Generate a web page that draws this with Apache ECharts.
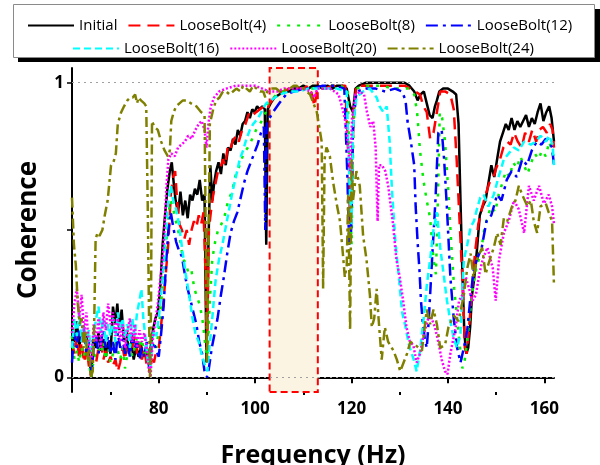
<!DOCTYPE html>
<html>
<head>
<meta charset="utf-8">
<script src="https://cdn.jsdelivr.net/npm/echarts@6/dist/echarts.min.js"></script>
<style>
html,body{margin:0;padding:0;background:#fff;}
#chart{width:600px;height:465px;}
</style>
</head>
<body>
<div id="chart"></div>
<script>
// ---- data ----
var seriesNames = ['Initial','LooseBolt(4)','LooseBolt(8)','LooseBolt(12)','LooseBolt(16)','LooseBolt(20)','LooseBolt(24)'];
var legendRow1 = ['Initial','LooseBolt(4)','LooseBolt(8)','LooseBolt(12)'];
var legendRow2 = ['LooseBolt(16)','LooseBolt(20)','LooseBolt(24)'];
var xTickMajor = [80,100,120,140,160];
var xTickMinor = [70,90,110,130,150];
var yTickMajor = [0,1];
var yTickAll = [0,0.5,1];
var gridValues = [0,1];
var highlightBand = [103,113];

var initial = [[62,0.17],[62.5,0.12],[63,0.19],[63.5,0.1],[64,0.16],[64.5,0.12],[65,0.14],[65.5,0.08],[66,0.0],[66.4,0.13],[67,0.1],[67.5,0.15],[68,0.09],[68.5,0.13],[69,0.07],[69.5,0.12],[70,0.08],[70.5,0.24],[71,0.18],[71.4,0.25],[71.8,0.16],[72.3,0.23],[72.8,0.12],[73.3,0.16],[73.8,0.08],[74.3,0.12],[74.8,0.06],[75.3,0.1],[75.8,0.07],[76.3,0.11],[76.8,0.07],[77.3,0.09],[77.8,0.05],[78.3,0.1],[78.8,0.16],[79.3,0.2],[79.8,0.22],[80.3,0.3],[80.8,0.45],[81.3,0.55],[81.8,0.64],[82.3,0.7],[82.7,0.73],[83.1,0.66],[83.5,0.6],[84,0.56],[84.5,0.63],[85,0.55],[85.5,0.6],[86,0.54],[86.5,0.62],[87,0.6],[87.5,0.64],[88,0.62],[88.5,0.67],[89,0.6],[89.5,0.62],[89.9,0.05],[90.3,0.45],[90.7,0.72],[91.1,0.6],[91.5,0.66],[91.9,0.7],[92.4,0.73],[92.9,0.69],[93.4,0.76],[93.9,0.72],[94.4,0.78],[94.9,0.77],[95.4,0.81],[95.9,0.79],[96.4,0.84],[96.9,0.82],[97.4,0.86],[97.9,0.87],[98.4,0.9],[98.9,0.88],[99.4,0.91],[99.9,0.9],[100.4,0.92],[100.9,0.91],[101.5,0.92],[102.0,0.91],[102.3,0.45],[102.6,0.91],[103.2,0.93],[104,0.95],[105,0.96],[106,0.97],[107,0.97],[108,0.98],[109,0.98],[110,0.99],[111,0.98],[112,0.99],[113,0.99],[114,0.98],[115,0.99],[116,0.98],[117,0.99],[118,0.99],[119,0.98],[119.7,0.92],[120.3,0.9],[120.8,0.98],[121.5,0.99],[123,1.0],[125,1.0],[127,1.0],[129,1.0],[131,1.0],[132,0.99],[133,0.97],[133.7,0.94],[134.3,0.96],[135,0.97],[135.6,0.93],[136.2,0.89],[136.8,0.88],[137.3,0.92],[137.7,0.94],[138.2,0.97],[139,0.98],[140,0.98],[141,0.97],[141.7,0.96],[142.2,0.86],[142.6,0.6],[143.0,0.35],[143.4,0.15],[143.8,0.08],[144.2,0.1],[144.6,0.17],[145,0.28],[145.4,0.33],[146,0.43],[146.6,0.55],[147.2,0.58],[147.8,0.6],[148.4,0.66],[149,0.72],[149.6,0.68],[150.2,0.74],[150.8,0.8],[151.4,0.83],[152,0.86],[152.6,0.84],[153.2,0.88],[153.8,0.84],[154.4,0.87],[155,0.85],[155.6,0.87],[156.2,0.89],[156.8,0.85],[157.4,0.88],[158,0.86],[158.6,0.9],[159.2,0.93],[159.8,0.87],[160.4,0.9],[161,0.92],[161.5,0.88],[162,0.8]];

var looseBolt4 = [[62,0.12],[62.5,0.08],[63,0.14],[63.5,0.06],[64,0.12],[64.5,0.05],[65,0.1],[65.5,0.04],[66,0.0],[66.4,0.08],[67,0.05],[67.5,0.1],[68,0.12],[68.5,0.06],[69,0.09],[69.5,0.05],[70,0.07],[70.5,0.04],[71,0.06],[71.5,0.02],[72,0.05],[72.5,0.1],[73,0.06],[73.5,0.13],[74,0.15],[74.5,0.1],[75,0.14],[75.5,0.08],[76,0.12],[76.5,0.06],[77,0.1],[77.5,0.04],[78,0.02],[78.5,0.07],[79,0.05],[79.5,0.09],[80,0.1],[80.5,0.18],[81,0.26],[81.5,0.36],[82,0.46],[82.5,0.62],[83,0.68],[83.4,0.7],[83.8,0.6],[84.3,0.52],[84.8,0.5],[85.3,0.47],[85.8,0.5],[86.3,0.45],[86.8,0.5],[87.3,0.53],[87.8,0.51],[88.3,0.55],[88.8,0.52],[89.3,0.56],[89.8,0.3],[90.0,0.08],[90.4,0.5],[90.8,0.56],[91.3,0.62],[91.8,0.66],[92.3,0.7],[92.8,0.71],[93.3,0.74],[93.8,0.72],[94.3,0.78],[94.8,0.77],[95.3,0.8],[96,0.82],[96.6,0.8],[97.3,0.84],[98,0.86],[98.8,0.9],[99.5,0.89],[100.2,0.9],[101,0.91],[101.8,0.92],[102.5,0.91],[103,0.93],[104,0.95],[105,0.97],[106,0.97],[107,0.98],[108,0.98],[109,0.98],[110,0.98],[111,0.99],[111.8,0.96],[112.3,0.92],[112.8,0.97],[113.5,0.98],[114.5,0.98],[116,0.99],[117.5,0.99],[118.7,0.99],[119.3,0.76],[119.7,0.52],[120.0,0.55],[120.4,0.9],[121,0.99],[123,0.99],[126,0.99],[129,0.99],[131,0.99],[132.2,0.98],[133.2,0.97],[134.2,0.96],[134.9,0.92],[135.6,0.9],[136.3,0.81],[137,0.83],[137.7,0.9],[138.4,0.97],[139.5,0.97],[140.5,0.96],[141.2,0.91],[141.8,0.74],[142.5,0.5],[143.1,0.3],[143.5,0.1],[143.9,0.08],[144.3,0.15],[145,0.3],[145.6,0.42],[146.3,0.52],[147,0.57],[147.8,0.62],[148.6,0.66],[149.3,0.67],[150,0.71],[150.8,0.74],[151.5,0.78],[152.3,0.8],[153,0.79],[153.7,0.83],[154.5,0.8],[155.3,0.78],[156,0.83],[156.8,0.8],[157.5,0.84],[158.3,0.8],[159,0.84],[159.7,0.85],[160.5,0.83],[161.2,0.86],[161.7,0.84],[162,0.78]];

var looseBolt8 = [[62,0.14],[62.5,0.06],[63,0.09],[63.5,0.05],[64,0.1],[64.5,0.07],[65,0.12],[65.5,0.05],[66,0.0],[66.5,0.06],[67,0.09],[67.5,0.1],[68,0.08],[68.5,0.12],[69,0.06],[69.5,0.1],[70,0.05],[70.5,0.08],[71,0.13],[71.5,0.09],[72,0.06],[72.5,0.1],[73,0.03],[73.5,0.08],[74,0.12],[74.5,0.07],[75,0.1],[75.5,0.14],[76,0.1],[76.5,0.13],[77,0.08],[77.5,0.1],[78,0.03],[78.5,0.08],[79,0.12],[79.5,0.1],[80,0.16],[80.5,0.25],[81,0.36],[81.5,0.45],[82,0.55],[82.4,0.6],[82.9,0.58],[83.4,0.54],[84,0.5],[84.5,0.46],[85,0.4],[85.6,0.39],[86.2,0.35],[86.8,0.36],[87.4,0.3],[88,0.27],[88.6,0.24],[89.2,0.18],[89.7,0.1],[90.1,0.07],[90.6,0.26],[91.1,0.4],[91.7,0.46],[92.3,0.5],[93,0.52],[93.7,0.55],[94.4,0.6],[95.2,0.63],[96,0.69],[96.8,0.72],[97.6,0.76],[98.5,0.78],[99.4,0.81],[100.2,0.84],[101,0.86],[101.7,0.88],[102.2,0.9],[102.6,0.93],[103.4,0.94],[104.4,0.96],[105.8,0.97],[107.5,0.97],[109.5,0.98],[111.5,0.98],[113,0.98],[115,0.99],[117.5,0.99],[119.2,0.98],[119.6,0.68],[120,0.45],[120.4,0.86],[121,0.98],[123,0.99],[126,0.99],[129,0.98],[130.5,0.98],[132,0.98],[133,0.96],[133.6,0.9],[134.2,0.77],[134.9,0.67],[135.6,0.6],[136.3,0.54],[137,0.4],[137.5,0.35],[137.9,0.6],[138.3,0.9],[138.8,0.88],[139.4,0.8],[140,0.65],[140.7,0.45],[141.3,0.3],[141.9,0.2],[142.5,0.1],[143,0.03],[143.4,0.05],[144,0.12],[144.6,0.22],[145.3,0.32],[146,0.38],[146.8,0.42],[147.5,0.5],[148.3,0.55],[149,0.58],[149.8,0.56],[150.5,0.62],[151.3,0.66],[152,0.7],[152.8,0.68],[153.5,0.73],[154.3,0.71],[155,0.75],[155.8,0.72],[156.5,0.69],[157.3,0.73],[158,0.76],[158.8,0.74],[159.5,0.77],[160.3,0.75],[161,0.8],[161.6,0.77],[162,0.74]];

var looseBolt12 = [[62,0.05],[62.4,0.15],[63,0.1],[63.5,0.18],[64,0.12],[64.5,0.16],[65,0.08],[65.5,0.12],[66,0.02],[66.5,0.1],[67,0.14],[67.5,0.08],[68,0.12],[68.5,0.16],[69,0.1],[69.5,0.14],[70,0.08],[70.5,0.12],[71,0.06],[71.5,0.15],[72,0.1],[72.5,0.13],[73,0.08],[73.5,0.12],[74,0.07],[74.5,0.15],[75,0.1],[75.5,0.12],[76,0.06],[76.5,0.1],[77,0.07],[77.5,0.12],[78,0.03],[78.5,0.1],[79,0.12],[79.5,0.09],[80,0.07],[80.5,0.15],[81,0.24],[81.5,0.38],[82,0.5],[82.5,0.56],[83,0.51],[83.6,0.46],[84.2,0.43],[84.8,0.41],[85.4,0.35],[86,0.3],[86.6,0.26],[87.2,0.22],[87.8,0.18],[88.4,0.12],[89,0.08],[89.5,0.02],[90,0.0],[90.4,0.03],[91,0.1],[91.6,0.15],[92.2,0.2],[92.9,0.28],[93.5,0.34],[94.2,0.42],[94.9,0.49],[95.6,0.53],[96.3,0.56],[97,0.61],[97.7,0.66],[98.4,0.7],[99.1,0.73],[99.8,0.76],[100.5,0.79],[101.2,0.83],[101.8,0.85],[102.1,0.5],[102.4,0.86],[103,0.88],[103.7,0.9],[105,0.93],[106.4,0.96],[108,0.97],[110,0.98],[112,0.98],[114,0.99],[116.5,0.99],[118.5,0.98],[119.1,0.7],[119.5,0.45],[119.9,0.5],[120.3,0.85],[121,0.97],[123,0.98],[125,0.98],[127,0.97],[129,0.98],[130.5,0.97],[131.2,0.94],[131.6,0.87],[132.3,0.8],[133,0.72],[133.3,0.58],[133.7,0.46],[134.1,0.36],[134.4,0.26],[134.8,0.18],[135.2,0.13],[135.6,0.1],[136,0.19],[136.7,0.4],[137.4,0.6],[138,0.83],[138.7,0.84],[139.2,0.74],[139.8,0.57],[140.5,0.34],[141.2,0.2],[141.9,0.1],[142.6,0.05],[143.3,0.1],[144,0.16],[144.6,0.26],[145.3,0.36],[146,0.4],[147,0.44],[148,0.53],[149,0.55],[150.2,0.62],[151.1,0.6],[152.2,0.67],[153.2,0.7],[154.3,0.68],[155.4,0.74],[156.4,0.72],[157.4,0.77],[158.4,0.8],[159.4,0.79],[160.3,0.81],[161,0.8],[161.6,0.78],[162,0.72]];

var looseBolt16 = [[62,0.1],[62.5,0.2],[63,0.14],[63.5,0.22],[64,0.12],[64.5,0.18],[65,0.1],[65.5,0.16],[66,0.08],[66.5,0.14],[67,0.2],[67.5,0.24],[68,0.15],[68.5,0.2],[69,0.12],[69.5,0.18],[70,0.14],[70.5,0.2],[71,0.12],[71.5,0.22],[72,0.16],[72.5,0.2],[73,0.13],[73.5,0.18],[74,0.1],[74.5,0.2],[75,0.14],[75.5,0.22],[76,0.26],[76.4,0.3],[76.8,0.2],[77.2,0.14],[77.7,0.06],[78.2,0.03],[78.6,0.12],[79,0.16],[79.5,0.14],[80,0.2],[80.6,0.3],[81.1,0.4],[81.6,0.52],[82,0.6],[82.5,0.65],[83,0.6],[83.6,0.57],[84.2,0.52],[84.9,0.43],[85.6,0.35],[86.3,0.28],[87,0.2],[87.6,0.15],[88.3,0.12],[89,0.07],[89.6,0.04],[90.1,0.02],[90.5,0.1],[91.1,0.2],[91.8,0.33],[92.5,0.4],[93.2,0.45],[93.9,0.51],[94.6,0.57],[95.3,0.63],[96,0.68],[96.8,0.74],[97.5,0.77],[98.2,0.81],[98.9,0.84],[99.6,0.86],[100.6,0.88],[101.6,0.91],[102.3,0.93],[103.3,0.94],[105,0.96],[107,0.97],[109,0.97],[111,0.98],[113,0.98],[115,0.98],[117,0.98],[119,0.97],[119.6,0.65],[120,0.52],[120.3,0.85],[121,0.95],[122.4,0.97],[123.8,0.98],[125.2,0.95],[125.8,0.92],[126.6,0.9],[127.3,0.92],[127.9,0.8],[128.4,0.63],[129.1,0.46],[129.8,0.34],[130.5,0.22],[131.2,0.17],[131.9,0.11],[132.9,0.06],[133.5,0.02],[134.2,0.09],[134.9,0.19],[135.6,0.31],[136.3,0.4],[137,0.5],[137.7,0.56],[138.4,0.44],[139.1,0.35],[139.8,0.26],[140.5,0.19],[141.2,0.13],[141.9,0.1],[142.6,0.15],[143.3,0.4],[144,0.45],[144.7,0.51],[145.4,0.53],[146,0.57],[146.7,0.61],[147.4,0.62],[148.4,0.58],[149.5,0.62],[150.5,0.68],[151.6,0.74],[152.6,0.76],[153.7,0.78],[154.7,0.77],[155.8,0.8],[157.2,0.79],[158.2,0.8],[159.2,0.82],[160.3,0.8],[161,0.82],[161.7,0.79],[162,0.72]];

var looseBolt20 = [[62,0.15],[62.5,0.25],[63,0.3],[63.5,0.2],[64,0.28],[64.5,0.15],[65,0.22],[65.5,0.1],[66,0.05],[66.5,0.18],[67,0.12],[67.5,0.2],[68,0.1],[68.5,0.22],[69,0.16],[69.5,0.25],[70,0.18],[70.5,0.22],[71,0.14],[71.5,0.2],[72,0.12],[72.5,0.18],[73,0.1],[73.5,0.15],[74,0.2],[74.5,0.12],[75,0.18],[75.5,0.1],[76,0.16],[76.5,0.12],[77,0.15],[77.5,0.1],[78,0.02],[78.3,0.0],[78.7,0.12],[79.2,0.18],[79.8,0.25],[80.3,0.33],[80.8,0.4],[81.2,0.5],[81.6,0.65],[82,0.74],[82.6,0.76],[83.3,0.75],[84,0.78],[84.7,0.79],[85.4,0.8],[86.1,0.82],[86.8,0.81],[87.6,0.84],[88.3,0.86],[88.9,0.87],[89.5,0.84],[89.9,0.78],[90.3,0.86],[90.8,0.92],[91.5,0.95],[92.5,0.97],[94,0.98],[96,0.99],[98,0.99],[100,0.99],[101.5,0.98],[103,0.97],[104.5,0.97],[106,0.98],[108,0.98],[110,0.98],[111.5,0.97],[112.3,0.95],[112.9,0.98],[114,0.98],[115.5,0.98],[116.5,0.97],[117.3,0.96],[118,0.92],[118.6,0.88],[119.2,0.8],[119.7,0.7],[120.1,0.88],[120.8,0.96],[121.8,0.97],[122.6,0.96],[123.2,0.9],[123.9,0.85],[124.5,0.87],[125,0.78],[125.4,0.53],[125.7,0.72],[126.3,0.72],[127,0.7],[127.6,0.65],[128.6,0.52],[129.3,0.4],[130,0.34],[130.7,0.26],[131.4,0.17],[132.1,0.12],[132.8,0.11],[133.5,0.05],[134.2,0.08],[134.9,0.14],[135.9,0.2],[136.6,0.2],[137.3,0.17],[138,0.12],[138.7,0.06],[139.4,0.02],[139.9,0.01],[140.5,0.08],[141.6,0.17],[142.3,0.26],[143,0.28],[143.7,0.34],[144.4,0.3],[145.1,0.26],[145.8,0.28],[146.5,0.35],[147.2,0.4],[148.2,0.44],[149.3,0.37],[149.9,0.26],[150.6,0.4],[151.6,0.49],[152.6,0.53],[153.7,0.6],[154.7,0.57],[155.8,0.49],[156.8,0.65],[157.8,0.6],[158.9,0.65],[159.9,0.59],[160.9,0.62],[161.6,0.58],[162,0.52]];

var looseBolt24 = [[62,0.61],[62.4,0.45],[62.8,0.38],[63.2,0.25],[63.6,0.18],[64,0.2],[64.4,0.1],[64.8,0.16],[65.2,0.06],[65.6,0.1],[65.9,0.0],[66.3,0.02],[66.6,0.18],[66.9,0.47],[67.3,0.49],[67.7,0.48],[68.3,0.5],[68.8,0.55],[69.4,0.6],[70.1,0.72],[70.6,0.73],[71.1,0.76],[71.5,0.86],[72.2,0.9],[72.8,0.92],[73.5,0.94],[74.1,0.95],[74.6,0.95],[75.1,0.96],[75.5,0.93],[75.8,0.95],[76.3,0.94],[77,0.93],[77.4,0.92],[77.7,0.6],[78,0.18],[78.2,0.0],[78.4,0.25],[78.6,0.87],[79.1,0.85],[79.8,0.84],[80.5,0.8],[81.2,0.77],[81.9,0.75],[82.3,0.77],[82.6,0.87],[83.1,0.9],[83.6,0.92],[84.3,0.93],[85,0.94],[85.7,0.94],[86.7,0.93],[87.8,0.92],[88.8,0.9],[89.5,0.89],[89.8,0.4],[90.0,0.05],[90.3,0.4],[90.6,0.86],[91.3,0.91],[91.9,0.94],[92.6,0.95],[93.3,0.97],[94,0.97],[94.7,0.96],[95.4,0.97],[96.1,0.98],[97,0.97],[97.5,0.99],[98.2,0.98],[98.9,0.97],[99.6,0.99],[100.3,0.98],[101,0.97],[101.7,0.97],[102.1,0.95],[102.5,0.97],[103.2,0.98],[104.4,0.98],[105.1,0.97],[105.8,0.97],[106.5,0.98],[107.2,0.98],[108,0.99],[108.6,0.99],[109.3,0.98],[110,0.98],[110.7,0.97],[111.4,0.96],[112.1,0.93],[112.8,0.9],[113.3,0.85],[113.8,0.8],[114.1,0.3],[114.4,0.74],[114.8,0.78],[115.5,0.75],[116.2,0.66],[116.9,0.59],[117.6,0.53],[118.3,0.4],[118.6,0.34],[119,0.38],[119.3,0.62],[119.7,0.16],[120,0.74],[120.3,0.6],[121,0.7],[121.7,0.65],[122.4,0.48],[123.1,0.4],[123.8,0.28],[124.2,0.17],[124.7,0.2],[125.2,0.3],[125.6,0.2],[126.25,0.06],[126.9,0.17],[127.6,0.12],[128.7,0.09],[129.4,0.06],[130.1,0.02],[130.8,0.05],[131.5,0.08],[132.2,0.12],[133.2,0.11],[134.6,0.09],[135.6,0.23],[136.3,0.18],[137,0.23],[137.7,0.18],[138.4,0.1],[139.4,0.11],[140.1,0.17],[141.2,0.21],[142.2,0.19],[143.3,0.28],[144,0.37],[144.7,0.42],[145.3,0.34],[146,0.4],[147.1,0.44],[147.8,0.35],[148.5,0.39],[149.5,0.44],[150.2,0.49],[150.9,0.45],[151.6,0.54],[152.3,0.53],[153.3,0.58],[154,0.6],[154.7,0.65],[155.4,0.62],[156.5,0.58],[157.2,0.6],[157.8,0.53],[158.5,0.49],[159.2,0.58],[160.3,0.59],[160.9,0.56],[161.6,0.53],[162,0.31]];

var seriesData = [initial, looseBolt4, looseBolt8, looseBolt12, looseBolt16, looseBolt20, looseBolt24];

// ---- styles ----
var colors = ['#000000','#ff0000','#00ee00','#0000ff','#00ffff','#ff00ff','#808000'];
var dashes = ['solid',[12,7],[3,7],[12,5,3,5],[7,4],[2,2],[10,4,3,4]];
var FONT = 'Open Sans';

var chart = echarts.init(document.getElementById('chart'), null, {renderer:'canvas'});

var series = seriesNames.map(function(n,i){
  return {
    name: n, type: 'line', data: seriesData[i], showSymbol: false, symbol: 'none',
    z: 3, animation: false,
    lineStyle: {color: colors[i], width: 2.5, type: dashes[i]},
    itemStyle: {color: colors[i]}
  };
});
series.unshift({
  name: 'band', type: 'line', data: [], z: 1, animation: false, silent: true,
  markArea: {
    silent: true,
    itemStyle: {color: '#fcf4e2', borderColor: '#ff0000', borderWidth: 2, borderType: [7,4]},
    data: [[{xAxis: highlightBand[0]}, {xAxis: highlightBand[1]}]]
  },
  markLine: {
    silent: true, symbol: 'none', label: {show: false},
    lineStyle: {color: '#a0a0a0', type: [2,4], width: 1},
    data: gridValues.map(function(v){ return {yAxis: v}; })
  }
});

function legendCfg(items, left, top){
  return {
    data: items, left: left, top: top, padding: 0, itemGap: 10,
    itemWidth: 46, itemHeight: 12, selectedMode: false, z: 10,
    itemStyle: {opacity: 0},
    textStyle: {fontFamily: FONT, fontSize: 15, color: '#000'}
  };
}

chart.setOption({
  animation: false,
  backgroundColor: '#fff',
  graphic: [
    {type: 'rect', z: 0, shape: {x: 18, y: 9, width: 582, height: 53}, style: {fill: '#000'}},
    {type: 'rect', z: 1, shape: {x: 13.5, y: 4.5, width: 581, height: 53}, style: {fill: '#fff', stroke: '#8a8a8a', lineWidth: 1}}
  ],
  legend: [legendCfg(legendRow1, 27, 18), legendCfg(legendRow2, 72, 41)],
  grid: {left: 72, right: 46, top: 68, bottom: 73, containLabel: false, outerBoundsMode: 'none'},
  xAxis: [{
    type: 'value', min: 62, max: 162,
    name: 'Frequency (Hz)', nameLocation: 'middle', nameGap: 51,
    nameTextStyle: {fontFamily: FONT, fontSize: 25, fontWeight: 'bold', color: '#000'},
    axisLine: {show: true, lineStyle: {color: '#000', width: 2}},
    axisTick: {show: true, length: 6, lineStyle: {color: '#000', width: 2}, customValues: xTickMajor},
    axisLabel: {fontFamily: FONT, fontSize: 17, fontWeight: 'bold', color: '#000', margin: 9, customValues: xTickMajor},
    splitLine: {show: false}
  },{
    type: 'value', min: 62, max: 162, position: 'bottom',
    axisLine: {show: false},
    axisTick: {show: true, length: 3, lineStyle: {color: '#000', width: 2}, customValues: xTickMinor},
    axisLabel: {show: false},
    splitLine: {show: false}
  }],
  yAxis: {
    type: 'value', min: -0.05, max: 1.05,
    name: 'Coherence', nameLocation: 'middle', nameGap: 30, nameRotate: 90,
    nameTextStyle: {fontFamily: FONT, fontSize: 26, fontWeight: 'bold', color: '#000'},
    axisLine: {show: true, lineStyle: {color: '#000', width: 2}},
    axisTick: {show: true, length: 5, lineStyle: {color: '#000', width: 1.5}, customValues: yTickAll},
    axisLabel: {fontFamily: FONT, fontSize: 17, fontWeight: 'bold', color: '#000', margin: 8, customValues: yTickMajor},
    splitLine: {show: false}
  },
  series: series
});
</script>
</body>
</html>
